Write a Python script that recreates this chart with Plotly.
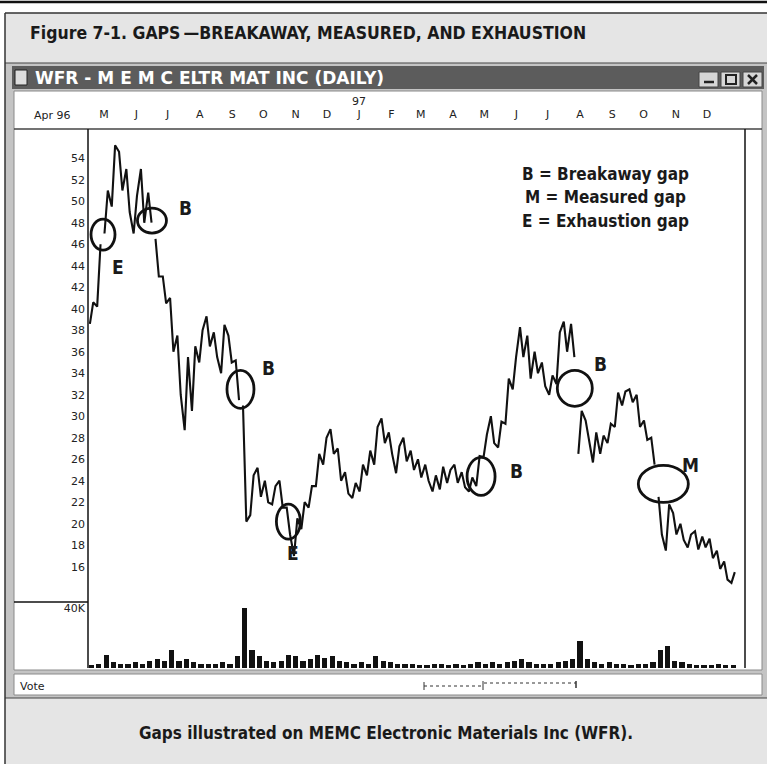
import plotly.graph_objects as go
import pandas as pd

W, H = 767, 764

# ---------------- data ----------------
WEEK_START = "1996-04-19"
LOW = [38.6, 40.2, 47.0, 49.5, 51.0, 49.0, 47.0, 48.0, 48.0, 43.0,
       40.5, 36.0, 32.0, 28.7, 30.5, 35.0, 36.5, 35.5, 34.0, 35.0,
       31.5, 20.2, 20.8, 22.5, 22.0, 21.8, 21.5, 19.0, 17.0, 19.5,
       21.5, 23.5, 25.5, 26.5, 24.0, 22.8, 22.4, 23.0, 24.5, 25.5,
       27.5, 26.5, 24.7, 25.8, 25.0, 24.3, 24.0, 23.0, 23.2, 23.8,
       23.8, 23.4, 23.0, 23.5, 26.2, 27.5, 27.1, 29.3, 32.5, 35.5,
       33.5, 34.0, 32.8, 32.0, 33.0, 36.0, 35.5, 26.5, 27.8, 25.7,
       26.5, 27.5, 29.0, 31.0, 31.3, 29.0, 27.8, 25.5, 19.0, 17.5,
       19.0, 18.5, 17.8, 17.6, 17.8, 16.8, 15.8, 14.8, 14.5]
HIGH = [40.6, 46.0, 51.0, 55.2, 54.6, 53.0, 50.5, 53.0, 50.8, 46.5,
        43.0, 41.0, 37.5, 35.5, 36.5, 38.0, 39.3, 37.8, 38.5, 37.5,
        35.2, 31.0, 24.5, 25.2, 24.0, 23.5, 24.0, 21.5, 20.5, 22.0,
        23.5, 26.5, 28.0, 28.8, 27.0, 24.8, 23.8, 25.5, 26.8, 29.0,
        29.8, 28.5, 27.2, 28.0, 26.8, 26.0, 25.5, 24.5, 25.3, 25.0,
        25.5, 24.8, 24.3, 26.3, 28.3, 30.0, 29.5, 33.5, 35.5, 38.3,
        37.5, 36.0, 35.0, 33.8, 37.8, 38.8, 38.6, 30.5, 29.6, 28.5,
        28.2, 29.3, 32.2, 32.3, 32.5, 32.0, 29.6, 28.0, 22.5, 21.8,
        21.0, 20.0, 19.0, 19.3, 18.8, 18.6, 17.5, 16.5, 15.5]
VOLUME_K = [2, 3, 9, 4, 3, 3, 4, 3, 5, 6, 5, 12, 5, 6, 4, 3, 3, 3, 4, 3,
            8, 40, 12, 8, 5, 4, 5, 9, 8, 5, 6, 9, 7, 8, 5, 4, 3, 4, 3, 8,
            5, 4, 3, 3, 3, 2, 2, 3, 3, 2, 3, 2, 3, 4, 3, 4, 3, 4, 5, 6,
            4, 3, 3, 3, 4, 5, 6, 18, 6, 4, 3, 4, 3, 3, 2, 3, 3, 4, 12, 15,
            5, 4, 3, 2, 2, 2, 3, 2, 2]
WEEK_DATES = pd.date_range(WEEK_START, periods=len(HIGH), freq="7D")

MONTH_TICKS = ["1996-05-01", "1996-06-01", "1996-07-01", "1996-08-01", "1996-09-01",
               "1996-10-01", "1996-11-01", "1996-12-01", "1997-01-01", "1997-02-01",
               "1997-03-01", "1997-04-01", "1997-05-01", "1997-06-01", "1997-07-01",
               "1997-08-01", "1997-09-01", "1997-10-01", "1997-11-01", "1997-12-01"]
MONTH_LABELS = ["M", "J", "J", "A", "S", "O", "N", "D", "J", "F",
                "M", "A", "M", "J", "J", "A", "S", "O", "N", "D"]
PRICE_TICKS = list(range(16, 56, 2))

# gap circles: (label, centre date, centre price)
GAP_MARKS = [("E", "1996-04-30", 46.9), ("B", "1996-06-16", 48.2),
             ("B", "1996-09-09", 32.5), ("E", "1996-10-25", 20.2),
             ("B", "1997-04-28", 24.4), ("B", "1997-07-27", 32.6),
             ("M", "1997-10-20", 23.7)]
# letter labels beside circles: (letter, date, price)
GAP_LETTERS = [("E", "1996-05-14", 43.9), ("B", "1996-07-18", 49.4),
               ("B", "1996-10-06", 34.5), ("E", "1996-10-29", 17.3),
               ("B", "1997-06-01", 24.9), ("B", "1997-08-21", 34.9),
               ("M", "1997-11-15", 25.5)]
LEGEND_LINES = ["B = Breakaway gap", "M = Measured gap", "E = Exhaustion gap"]

# ---------------- helpers ----------------
def fx(px):
    return px / W

def fy(py):
    return 1 - py / H

NARROW = "Liberation Sans Narrow, Arial Narrow, DejaVu Sans Condensed, sans-serif"
PIX = "DejaVu Sans, Liberation Sans, sans-serif"

shapes = []

def rect(x0, y0, x1, y1, fill=None, line=None, lw=1, layer="below"):
    shapes.append(dict(type="rect", xref="paper", yref="paper",
                       x0=fx(x0), x1=fx(x1), y0=fy(y1), y1=fy(y0),
                       fillcolor=fill if fill else "rgba(0,0,0,0)",
                       line=dict(color=line if line else "rgba(0,0,0,0)", width=lw if line else 0),
                       layer=layer))

def hline(x0, x1, y, color="#111", lw=1, layer="above", dash=None):
    d = dict(type="line", xref="paper", yref="paper", x0=fx(x0), x1=fx(x1), y0=fy(y), y1=fy(y),
             line=dict(color=color, width=lw), layer=layer)
    if dash:
        d["line"]["dash"] = dash
    shapes.append(d)

def vline(x, y0, y1, color="#111", lw=1, layer="above"):
    shapes.append(dict(type="line", xref="paper", yref="paper", x0=fx(x), x1=fx(x),
                       y0=fy(y0), y1=fy(y1), line=dict(color=color, width=lw), layer=layer))

def text(x, y, s, size, family, color="#1a1a1a", xanchor="center", xref="paper"):
    return dict(x=x, y=fy(y), xref=xref, yref="paper", text=s, showarrow=False,
                xanchor=xanchor, yanchor="middle", font=dict(family=family, size=size, color=color))

# ---------------- chrome ----------------
hline(0, W, 2, "#111", 2.5)
rect(5, 13, W, 63, fill="#e5e5e5")
rect(5, 63, W, 698, fill="#c4c4c4")
rect(12, 66, 764, 89, fill="#5c5c5c")
rect(14, 91, 762, 670, fill="#ffffff", line="#8a8a8a", lw=1)
rect(14, 674, 762, 695, fill="#ffffff", line="#8a8a8a", lw=1)
rect(5, 698, W, H, fill="#e5e5e5")
hline(5, W, 13, "#333", 1.5, layer="below")
hline(5, W, 63, "#444", 1.2, layer="below")
hline(5, W, 698, "#444", 1.2, layer="below")
vline(5, 13, H, "#333", 1.5, layer="below")
# title-bar buttons
for bx in (699, 721, 743):
    rect(bx, 72, bx + 19, 87, fill="#d6d6d6", line="#444", lw=1, layer="above")
hline(704, 714, 82, "#222", 2.5)
rect(726, 75, 736, 84, line="#222", lw=2, layer="above")
shapes.append(dict(type="line", xref="paper", yref="paper", x0=fx(748), x1=fx(757),
                   y0=fy(75), y1=fy(84), line=dict(color="#222", width=2.5)))
shapes.append(dict(type="line", xref="paper", yref="paper", x0=fx(748), x1=fx(757),
                   y0=fy(84), y1=fy(75), line=dict(color="#222", width=2.5)))
# title-bar icon
rect(15, 70, 27, 85, fill="#dddddd", line="#222", lw=1, layer="above")
# panel lines
hline(14, 762, 129, "#444", 1.5)
vline(88, 129, 668, "#111", 1.5)
vline(745, 129, 668, "#111", 1.5)
hline(14, 88, 602, "#111", 1.5)
# status-bar scroller
hline(424, 482, 686, "#333", 1, dash="dot")
hline(484, 576, 683, "#333", 1, dash="dot")
vline(424, 682, 690, "#333", 1)
vline(483, 681, 690, "#333", 1)
vline(576, 681, 688, "#333", 1.5)

# ---------------- traces ----------------
line_x, line_y = [], []
n = len(HIGH)
half = pd.Timedelta(days=1.6)
for i in range(n):
    lo, hi = LOW[i], HIGH[i]
    if i > 0 and (lo > HIGH[i - 1] or hi < LOW[i - 1]):
        line_x.append(None)
        line_y.append(None)
    mid = (lo + hi) / 2
    nxt = (LOW[i + 1] + HIGH[i + 1]) / 2 if i + 1 < n else mid
    first, second = (lo, hi) if nxt >= mid else (hi, lo)
    line_x += [WEEK_DATES[i] - half, WEEK_DATES[i] + half]
    line_y += [first, second]

fig = go.Figure()
fig.add_trace(go.Scatter(x=line_x, y=line_y, mode="lines", connectgaps=False,
                         line=dict(color="#111111", width=2.1), xaxis="x", yaxis="y",
                         showlegend=False, hoverinfo="skip"))
fig.add_trace(go.Bar(x=WEEK_DATES, y=VOLUME_K, width=5 * 86400000,
                     marker=dict(color="#111111", line=dict(width=0)),
                     xaxis="x2", yaxis="y2", showlegend=False, hoverinfo="skip"))

CIRCLE_SIZES = [(24, 31), (29, 25), (27, 38), (24, 35), (28, 38), (35, 36), (50, 37)]
for (lab, d, v), (cw, ch) in zip(GAP_MARKS, CIRCLE_SIZES):
    shapes.append(dict(type="circle", xref="x", yref="y", xsizemode="pixel", ysizemode="pixel",
                       xanchor=d, yanchor=v, x0=-cw / 2, x1=cw / 2, y0=-ch / 2, y1=ch / 2,
                       line=dict(color="#111111", width=2.8), layer="above"))

annotations = []
for lab, d, v in GAP_LETTERS:
    annotations.append(dict(x=d, y=v, xref="x", yref="y", text="<b>%s</b>" % lab,
                            xanchor="center", yanchor="middle",
                            showarrow=False, font=dict(family=NARROW, size=19, color="#1a1a1a")))
for k, t in enumerate(LEGEND_LINES):
    annotations.append(text(fx(605), 174 + 23.5 * k, "<b>%s</b>" % t, 17, NARROW))
annotations += [
    text(fx(28), 33, "<b>Figure 7-1. GAPS\u2009\u2014BREAKAWAY, MEASURED, AND EXHAUSTION</b>",
         17.5, NARROW, xanchor="left"),
    text(fx(33), 78, "<b>WFR - M E M C ELTR MAT INC (DAILY)</b>", 17, PIX, "#ffffff", "left"),
    text(fx(52), 115, "Apr 96", 11, PIX, "#222"),
    text("1997-01-01", 101, "97", 11, PIX, "#222", xref="x"),
    text(fx(18), 686, "Vote", 11, PIX, "#222", "left"),
    text(fx(386), 733, "<b>Gaps illustrated on MEMC Electronic Materials Inc (WFR).</b>", 17, NARROW),
]

X_RANGE = ["1996-04-15 14:00", "1998-01-06 10:00"]
fig.update_layout(
    width=W, height=H, margin=dict(l=0, r=0, t=0, b=0),
    paper_bgcolor="#ffffff", plot_bgcolor="rgba(0,0,0,0)",
    showlegend=False, bargap=0,
    xaxis=dict(domain=[fx(88), fx(745)], range=X_RANGE, type="date", anchor="y", side="top",
               tickvals=MONTH_TICKS, ticktext=MONTH_LABELS, ticks="", showgrid=False,
               zeroline=False, showline=False, ticklabelstandoff=8,
               tickfont=dict(family=PIX, size=11, color="#222")),
    yaxis=dict(domain=[fy(602), fy(129)], range=[12.72, 56.72], anchor="x",
               tickvals=PRICE_TICKS, ticks="", showgrid=False, zeroline=False, showline=False,
               ticklabelstandoff=2, tickfont=dict(family=PIX, size=11, color="#222")),
    xaxis2=dict(domain=[fx(88), fx(745)], range=X_RANGE, type="date", anchor="y2",
                matches="x", showticklabels=False, ticks="", showgrid=False, zeroline=False),
    yaxis2=dict(domain=[fy(668), fy(602)], range=[0, 44], anchor="x2", tickvals=[40],
                ticktext=["40K"], ticks="", showgrid=False, zeroline=False, showline=False,
                ticklabelstandoff=2, tickfont=dict(family=PIX, size=11, color="#222")),
    shapes=shapes, annotations=annotations,
)

fig.write_html("out.html", config={"displayModeBar": False},
               post_script="document.body.style.margin='0px';")
